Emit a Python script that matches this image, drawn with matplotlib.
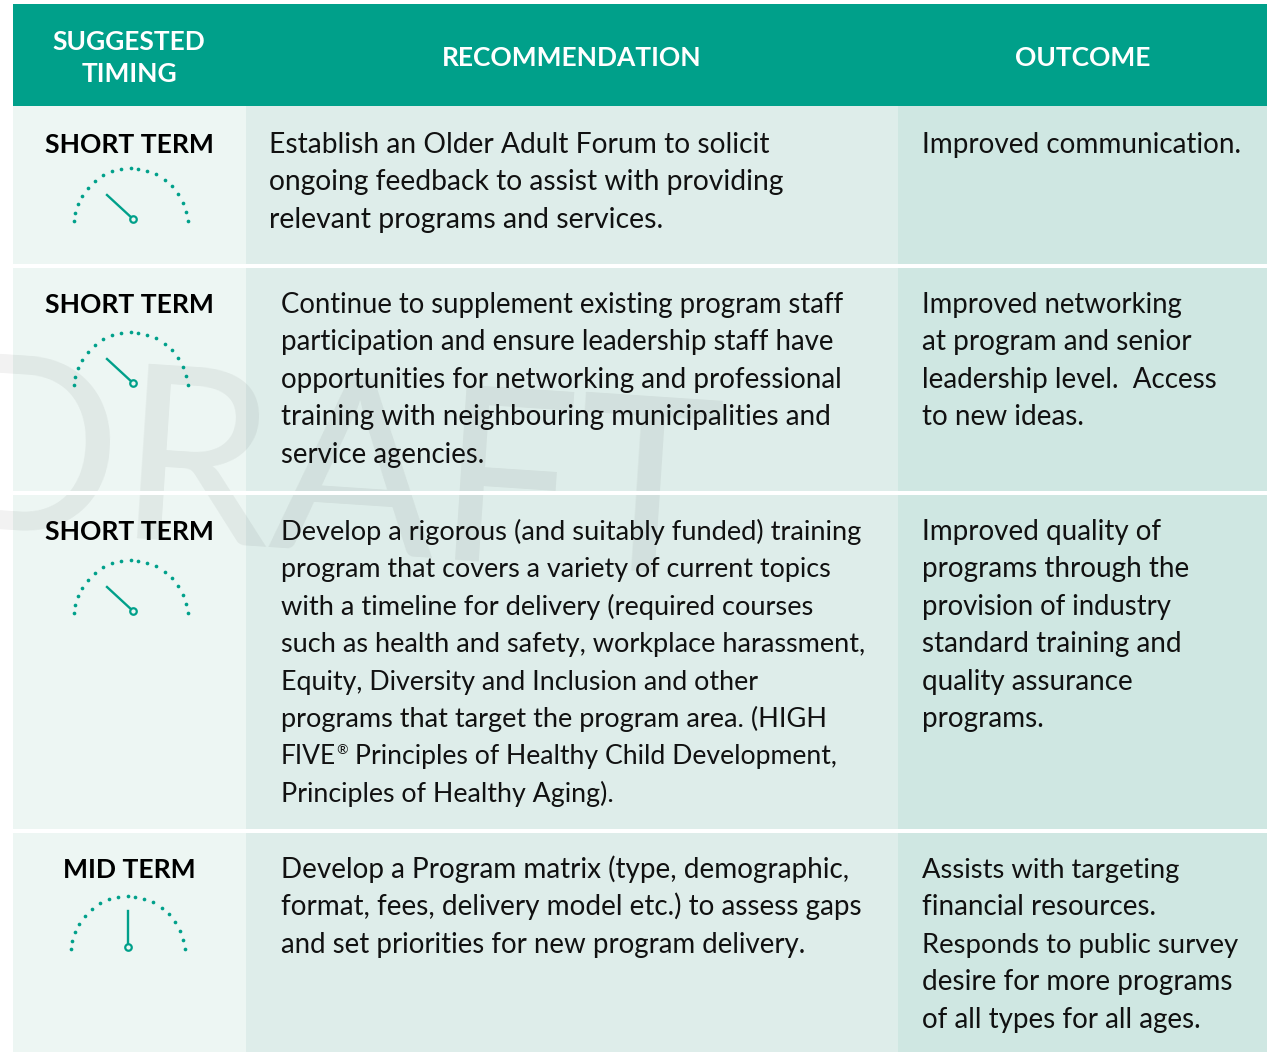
import matplotlib
matplotlib.use("Agg")
import matplotlib.pyplot as plt
from matplotlib.patches import Rectangle

W, H = 1268, 1052
TEAL = "#00A08A"
C1, C2, C3 = "#EDF6F3", "#DEEDEA", "#CFE7E2"
FONT = ["Lato", "DejaVu Sans"]

headers = ["SUGGESTED", "TIMING", "RECOMMENDATION", "OUTCOME"]
timing = ["SHORT TERM", "SHORT TERM", "SHORT TERM", "MID TERM"]
recommendation = [
    ["Establish an Older Adult Forum to solicit",
     "ongoing feedback to assist with providing",
     "relevant programs and services."],
    ["Continue to supplement existing program staff",
     "participation and ensure leadership staff have",
     "opportunities for networking and professional",
     "training with neighbouring municipalities and",
     "service agencies."],
    ["Develop a rigorous (and suitably funded) training",
     "program that covers a variety of current topics",
     "with a timeline for delivery (required courses",
     "such as health and safety, workplace harassment,",
     "Equity, Diversity and Inclusion and other",
     "programs that target the program area. (HIGH",
     "FIVE",
     "Principles of Healthy Aging)."],
    ["Develop a Program matrix (type, demographic,",
     "format, fees, delivery model etc.) to assess gaps",
     "and set priorities for new program delivery."],
]
rec_right = [
    [769, 784, 664],
    [845, 836, 841, 833, 485],
    [863, 832, 816, 867, 759, 827, 333, 614],
    [849, 862, 806],
]
outcome = [
    ["Improved communication."],
    ["Improved networking", "at program and senior",
     "leadership level.  Access", "to new ideas."],
    ["Improved quality of", "programs through the",
     "provision of industry", "standard training and",
     "quality assurance", "programs."],
    ["Assists with targeting", "financial resources.",
     "Responds to public survey", "desire for more programs",
     "of all types for all ages."],
]
out_right = [
    [1241],
    [1183, 1192, 1216, 1084],
    [1161, 1189, 1172, 1182, 1133, 1044],
    [1180, 1156, 1239, 1232, 1201],
]
row_tops = [106, 268, 495, 833]
row_bottoms = [264, 491, 829, 1052]
first_baseline = [153, 313, 540, 878]
rec_x = [269, 281, 281, 281]
gauge_dy = [0, 164, 392, 728]
gauge_dx = [0, 0, 0, -2.7]
hub_x = [133, 133, 133, 127.5]
tip_x = [107, 107, 107, 127.5]
tip_y = [195, 195, 195, 183]
dot_x = [74, 75, 77.5, 82, 88, 95, 103, 112, 121, 131, 138, 147, 156, 165, 172, 178, 183, 186, 188]
dot_y = [221, 213, 204, 196, 188, 181, 175, 171, 168.5, 168, 169, 171, 174, 180, 186, 194, 203, 212, 221]

fig = plt.figure(figsize=(W / 100, H / 100), dpi=100, facecolor="white")
ax = fig.add_axes([0, 0, 1, 1])
ax.set_xlim(0, W)
ax.set_ylim(H, 0)
ax.axis("off")
renderer = fig.canvas.get_renderer()


def fitted(x, y, s, right, base=20.0, **kw):
    t = ax.text(x, y, s, fontsize=base, ha="left", va="baseline", **kw)
    w = t.get_window_extent(renderer).width
    t.set_fontsize(base * (right - x) / w)
    return t


ax.add_patch(Rectangle((13, 4), 1254, 102, fc=TEAL, ec="none"))
for top, bot in zip(row_tops, row_bottoms):
    for x0, x1, c in [(13, 246, C1), (246, 898, C2), (898, 1267, C3)]:
        ax.add_patch(Rectangle((x0, top), x1 - x0, bot - top, fc=c, ec="none"))

ax.text(-70, 526, "DRAFT", fontsize=176, family=FONT, color="black",
        alpha=0.055, rotation=-3.8, rotation_mode="anchor", ha="left", va="baseline",
        zorder=2, clip_on=True)
ax.add_patch(Rectangle((13, 491), 1254, 4, fc="white", ec="none", zorder=3))

hdr = dict(color="white", weight="bold", family=FONT, ha="center", va="baseline", fontsize=19)
ax.text(129, 50, headers[0], **hdr)
ax.text(129, 82, headers[1], **hdr)
ax.text(572, 66, headers[2], **hdr)
ax.text(1083, 66, headers[3], **hdr)

body = dict(color="#111111", family=FONT, zorder=5)
SP = 37.4
for i in range(4):
    ax.text(129, first_baseline[i], timing[i], color="black", weight="bold", family=FONT,
            fontsize=19.1, ha="center", va="baseline", zorder=5)
    for j, line in enumerate(recommendation[i]):
        if line == "FIVE":
            ax.text(rec_x[i], first_baseline[i] + j * SP, line, fontsize=19, ha="left", va="baseline", **body)
        else:
            fitted(rec_x[i], first_baseline[i] + j * SP, line, rec_right[i][j], **body)
    for j, line in enumerate(outcome[i]):
        fitted(922, first_baseline[i] + j * SP, line, out_right[i][j], **body)
    dx, dy = gauge_dx[i], gauge_dy[i]
    ax.scatter([x + dx for x in dot_x], [y + dy for y in dot_y], s=7, color=TEAL, lw=0, zorder=4)
    hx, hy = hub_x[i], 219 + dy
    ax.plot([hx, tip_x[i]], [hy, tip_y[i] + dy], color=TEAL, lw=1.7, zorder=4)
    ax.scatter([hx], [hy], s=22, fc=C1, ec=TEAL, lw=1.6, zorder=4.5)

y_five = first_baseline[2] + 6 * SP
ax.text(336.5, y_five - 10, "®", fontsize=10, ha="left", va="baseline", **body)
fitted(355, y_five, "Principles of Healthy Child Development,", 839, **body)

fig.savefig("out.png", dpi=100, facecolor="white")
